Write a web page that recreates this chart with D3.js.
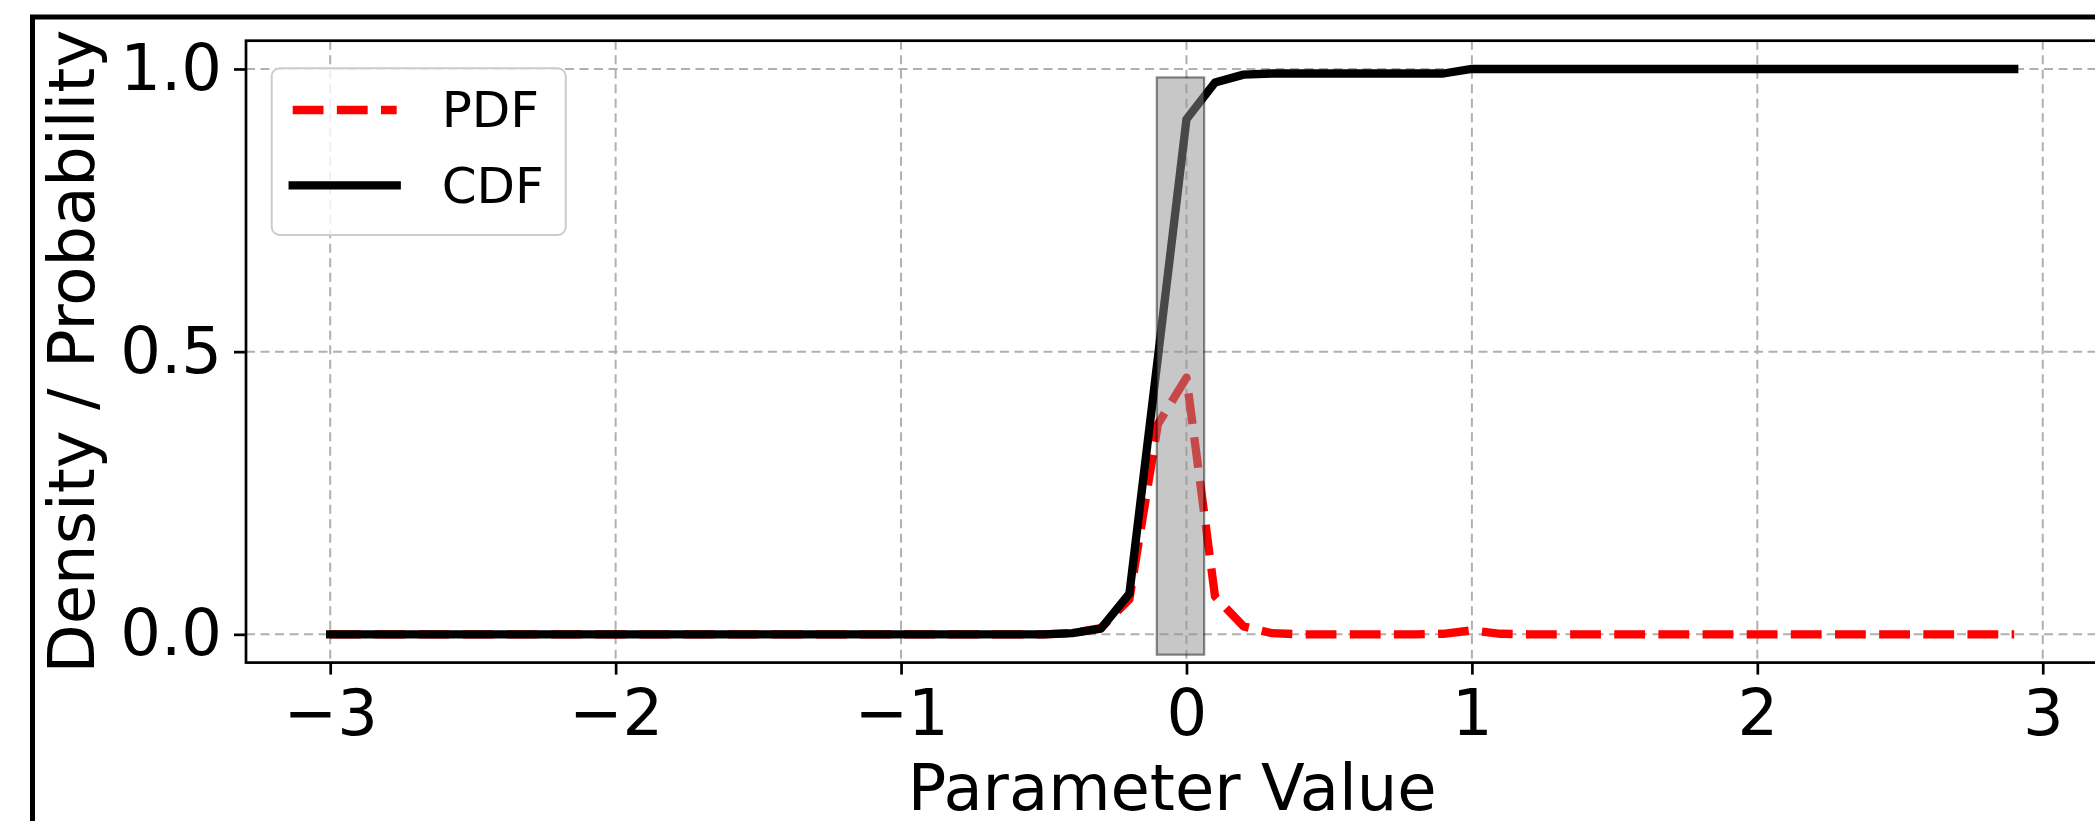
<!DOCTYPE html>
<html>
<head>
<meta charset="utf-8">
<script src="https://cdn.jsdelivr.net/npm/d3@7"></script>
<style>
  html, body { margin: 0; padding: 0; background: #fff; overflow: hidden; }
  text { font-family: "DejaVu Sans", sans-serif; }
</style>
</head>
<body>
<div id="chart"></div>
<script>
// data
var xValues = [-3.0,-2.9,-2.8,-2.7,-2.6,-2.5,-2.4,-2.3,-2.2,-2.1,-2.0,-1.9,-1.8,-1.7,-1.6,-1.5,-1.4,-1.3,-1.2,-1.1,
  -1.0,-0.9,-0.8,-0.7,-0.6,-0.5,-0.4,-0.3,-0.2,-0.1,0.0,0.1,0.2,0.3,0.4,0.5,0.6,0.7,0.8,0.9,
  1.0,1.1,1.2,1.3,1.4,1.5,1.6,1.7,1.8,1.9,2.0,2.1,2.2,2.3,2.4,2.5,2.6,2.7,2.8,2.9];
var pdfValues = [0,0,0,0,0,0,0,0,0,0,0,0,0,0,0,0,0,0,0,0,
  0,0,0,0,0,0,0.002,0.011,0.062,0.372,0.454,0.067,0.014,0.002,0,0,0,0,0,0.001,
  0.007,0.001,0,0,0,0,0,0,0,0,0,0,0,0,0,0,0,0,0,0];
var cdfValues = [0,0,0,0,0,0,0,0,0,0,0,0,0,0,0,0,0,0,0,0,
  0,0,0,0,0,0,0.002,0.01,0.072,0.49,0.911,0.976,0.99,0.992,0.992,0.992,0.992,0.992,0.992,0.992,
  1,1,1,1,1,1,1,1,1,1,1,1,1,1,1,1,1,1,1,1];
var intervalX = [-0.104, 0.062];
var intervalY = [-0.036, 0.985];
var xTicks = [-3, -2, -1, 0, 1, 2, 3];
var yTicks = [0, 0.5, 1.0];
var seriesNames = ["PDF", "CDF"];

var W = 2095, H = 821;
var plot = {left: 246, top: 40.7, right: 2098.4, bottom: 662.6};
var lw = 8.33;

var svg = d3.select("#chart")
  .append("svg")
    .attr("width", W)
    .attr("height", H);

// outer frame (cut by the picture edge on the right and bottom)
svg.append("path")
  .attr("d", `M32.5,${H + 10}V17H${W + 10}`)
  .attr("fill", "none")
  .attr("stroke", "#000")
  .attr("stroke-width", 5);

var x = d3.scaleLinear()
  .domain([-3.295, 3.195])
  .range([plot.left, plot.right]);

var y = d3.scaleLinear()
  .domain([-0.05, 1.05])
  .range([plot.bottom, plot.top]);

// grid
var grid = svg.append("g");
grid.selectAll("line.vx")
  .data(xTicks)
  .join("line")
    .attr("x1", d => x(d)).attr("x2", d => x(d))
    .attr("y1", plot.top).attr("y2", plot.bottom);
grid.selectAll("line.hy")
  .data(yTicks)
  .join("line")
    .attr("y1", d => y(d)).attr("y2", d => y(d))
    .attr("x1", plot.left).attr("x2", plot.right);
grid.selectAll("line")
  .attr("stroke", "#b0b0b0")
  .attr("stroke-width", 2)
  .attr("stroke-dasharray", "9,5.5");

var rows = xValues.map((v, i) => ({x: v, pdf: pdfValues[i], cdf: cdfValues[i]}));

// PDF (dashed red)
svg.append("path")
  .datum(rows)
  .attr("fill", "none")
  .attr("stroke", "#ff0000")
  .attr("stroke-width", lw)
  .attr("stroke-linejoin", "round")
  .attr("stroke-dasharray", `${3.7 * lw},${1.6 * lw}`)
  .attr("d", d3.line().x(d => x(d.x)).y(d => y(d.pdf)));

// CDF (solid black)
svg.append("path")
  .datum(rows)
  .attr("fill", "none")
  .attr("stroke", "#000")
  .attr("stroke-width", lw)
  .attr("stroke-linejoin", "round")
  .attr("stroke-linecap", "square")
  .attr("d", d3.line().x(d => x(d.x)).y(d => y(d.cdf)));

// shaded interval
svg.append("rect")
  .attr("x", x(intervalX[0]))
  .attr("y", y(intervalY[1]))
  .attr("width", x(intervalX[1]) - x(intervalX[0]))
  .attr("height", y(intervalY[0]) - y(intervalY[1]))
  .attr("fill", "#909090")
  .attr("fill-opacity", 0.5)
  .attr("stroke", "#000")
  .attr("stroke-opacity", 0.45)
  .attr("stroke-width", 2.2);

// axes
var fmtX = d => (d < 0 ? "\u2212" + Math.abs(d) : String(d));
var xAxis = svg.append("g")
  .attr("transform", `translate(0,${plot.bottom})`)
  .call(d3.axisBottom(x).tickValues(xTicks).tickFormat(fmtX).tickSize(12).tickPadding(12));
var yAxis = svg.append("g")
  .attr("transform", `translate(${plot.left},0)`)
  .call(d3.axisLeft(y).tickValues(yTicks).tickFormat(d3.format(".1f")).tickSize(12).tickPadding(12));

[xAxis, yAxis].forEach(function(g) {
  g.select(".domain").remove();
  g.selectAll(".tick line").attr("stroke", "#000").attr("stroke-width", 2.7);
  g.selectAll(".tick text")
    .attr("fill", "#000")
    .style("font-size", "64px")
    .style("font-family", "'DejaVu Sans', sans-serif");
});
xAxis.selectAll(".tick text").attr("dy", "0.76em");

// spines
svg.append("rect")
  .attr("x", plot.left)
  .attr("y", plot.top)
  .attr("width", plot.right - plot.left)
  .attr("height", plot.bottom - plot.top)
  .attr("fill", "none")
  .attr("stroke", "#000")
  .attr("stroke-width", 2.7);

// axis labels
svg.append("text")
  .attr("x", (plot.left + plot.right) / 2)
  .attr("y", 810)
  .attr("text-anchor", "middle")
  .style("font-size", "64px")
  .text("Parameter Value");

svg.append("text")
  .attr("transform", `translate(94,${(plot.top + plot.bottom) / 2}) rotate(-90)`)
  .attr("text-anchor", "middle")
  .style("font-size", "64px")
  .text("Density / Probability");

// legend
var legend = svg.append("g");
legend.append("rect")
  .attr("x", 271.7).attr("y", 68.3)
  .attr("width", 294).attr("height", 166.7)
  .attr("rx", 8).attr("ry", 8)
  .attr("fill", "#fff").attr("fill-opacity", 0.8)
  .attr("stroke", "#cccccc").attr("stroke-width", 2);

var legendRows = [
  {name: seriesNames[0], color: "#ff0000", dash: `${3.7 * lw},${1.6 * lw}`, cap: "butt", ly: 110, ty: 126.7},
  {name: seriesNames[1], color: "#000", dash: null, cap: "square", ly: 185.3, ty: 202.7}
];
legendRows.forEach(function(r) {
  legend.append("line")
    .attr("x1", 292.7).attr("x2", 396.7)
    .attr("y1", r.ly).attr("y2", r.ly)
    .attr("stroke", r.color)
    .attr("stroke-width", lw)
    .attr("stroke-linecap", r.cap)
    .attr("stroke-dasharray", r.dash);
  legend.append("text")
    .attr("x", 441.7)
    .attr("y", r.ty)
    .style("font-size", "50px")
    .text(r.name);
});
</script>
</body>
</html>
